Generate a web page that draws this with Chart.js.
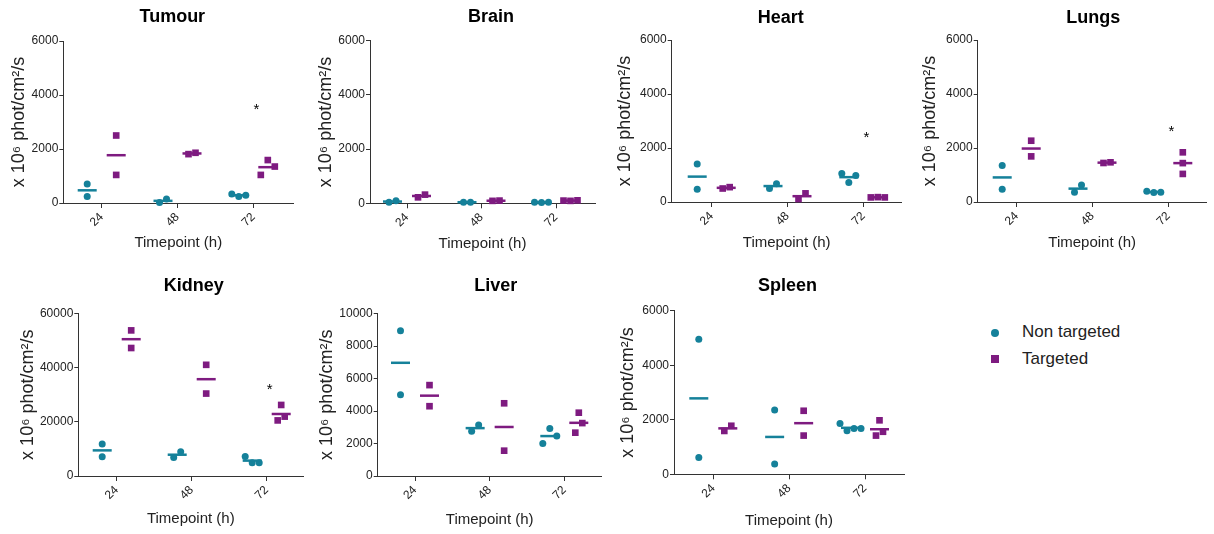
<!DOCTYPE html>
<html>
<head>
<meta charset="utf-8">
<script src="https://cdn.jsdelivr.net/npm/chart.js@4.4.0/dist/chart.umd.min.js"></script>
<style>
  body { margin: 0; background: #fff; width: 1214px; height: 534px; position: relative; overflow: hidden;
         font-family: "Liberation Sans", Arial, sans-serif; }
  canvas { position: absolute; }
  .key { position: absolute; left: 1022px; font-size: 17px; line-height: 17px; color: #222; white-space: nowrap; }
  .mark { position: absolute; }
</style>
</head>
<body>
<div class="mark" style="left:991px;top:329px;width:8px;height:8px;border-radius:50%;background:#15819a"></div>
<div class="mark" style="left:991px;top:355px;width:8px;height:8px;background:#7e1b80"></div>
<div class="key" style="top:323px">Non targeted</div>
<div class="key" style="top:350px">Targeted</div>
<script>
var timepoints = [24, 48, 72];
var organs = ["Tumour", "Brain", "Heart", "Lungs", "Kidney", "Liver", "Spleen"];
var yMax  = [6000, 6000, 6000, 6000, 60000, 10000, 6000];
var yStep = [2000, 2000, 2000, 2000, 20000, 2000, 2000];

// one list of animals per timepoint (24, 48, 72 h)
var tumourNT = [[700, 240], [15, 145], [330, 240, 290]];
var tumourT  = [[2500, 1040], [1810, 1860], [1040, 1590, 1350]];
var brainNT  = [[40, 90], [40, 40], [40, 30, 40]];
var brainT   = [[220, 320], [90, 100], [100, 90, 110]];
var heartNT  = [[1410, 470], [500, 680], [1060, 720, 980]];
var heartT   = [[500, 550], [110, 320], [170, 180, 170]];
var lungsNT  = [[1350, 470], [360, 630], [400, 350, 360]];
var lungsT   = [[2270, 1690], [1445, 1470], [1840, 1440, 1040]];
var kidneyNT = [[11800, 7100], [6800, 8900], [7200, 4900, 4900]];
var kidneyT  = [[53700, 47200], [41000, 30400], [20500, 26200, 21900]];
var liverNT  = [[8950, 5000], [2750, 3150], [2000, 2920, 2460]];
var liverT   = [[5600, 4300], [4480, 1560], [2670, 3900, 3260]];
var spleenNT = [[4950, 620], [2360, 380], [1860, 1600, 1680, 1680]];
var spleenT  = [[1590, 1780], [2330, 1420], [1420, 1980, 1560]];

// height of the * over the 72 h pair, null = not significant
var starY = [3600, null, 2550, 2750, 33500, null, null];

var ntSets = [tumourNT, brainNT, heartNT, lungsNT, kidneyNT, liverNT, spleenNT];
var tSets  = [tumourT, brainT, heartT, lungsT, kidneyT, liverT, spleenT];

// page layout of each plot: axis left, axis right, 24h tick, 72h tick, top, bottom,
// room for y labels, room for x labels, title shift, title lift
var boxes = [
  [63.3, 293.3, 101.7, 253.3, 41, 203, 58, 53, -6, 18.7],
  [370, 595, 407, 556, 40.7, 203.3, 58, 53, 8.5, 19],
  [671.7, 901.7, 711.7, 863.3, 40, 202, 60, 54, -6, 17.3],
  [977.7, 1206.7, 1016.7, 1168.3, 40, 202, 61, 54, 1, 17.3],
  [78.3, 303.3, 116.7, 266.7, 313.3, 476, 64, 56, 3, 22.3],
  [377.7, 601.7, 415, 564.3, 313.7, 476, 64, 57, 6, 22.7],
  [674, 904, 713.3, 865, 310.7, 474.3, 60, 59, -1.5, 19.7]
];

var TEAL = "#15819a", PURPLE = "#7e1b80", AXIS = "#333", TXT = "#222";
var SIDE_PX = 14.5, JIT_PX = 7, HALF_PX = 9.5, PAD_TOP = 40, PAD_R = 6;
var FONT = "'Liberation Sans', Arial, sans-serif";

Chart.defaults.font.family = FONT;
Chart.defaults.animation = false;

// sideways spread for points that would sit on top of each other
function spread(vals, max) {
  var thr = max * 0.06;
  var idx = vals.map(function (v, i) { return i; }).sort(function (a, b) { return vals[a] - vals[b]; });
  var groups = [];
  idx.forEach(function (i) {
    var g = groups[groups.length - 1];
    if (g && vals[i] - vals[g[g.length - 1]] < thr) g.push(i); else groups.push([i]);
  });
  var off = vals.map(function () { return 0; });
  groups.forEach(function (g) {
    g.slice().sort(function (a, b) { return a - b; }).forEach(function (i, k) { off[i] = k - (g.length - 1) / 2; });
  });
  return off;
}

var decor = {
  id: "decor",
  afterDatasetsDraw: function (chart, args, o) {
    var ctx = chart.ctx, a = chart.chartArea;
    ctx.save();
    ctx.fillStyle = "#000";
    ctx.textAlign = "center";
    ctx.textBaseline = "alphabetic";
    ctx.font = "bold 18px " + FONT;
    ctx.fillText(o.title, (a.left + a.right) / 2 + o.dx, a.top - o.lift);
    if (o.star != null) {
      ctx.font = "15px " + FONT;
      var sx = chart.scales.x.getPixelForValue(72) + 3;
      var sy = chart.scales.y.getPixelForValue(o.star);
      ctx.fillText("*", sx, sy + 8.5);
    }
    ctx.restore();
  }
};

organs.forEach(function (name, p) {
  var b = boxes[p];
  var L = b[0], R = b[1], t24 = b[2], t72 = b[3], top = b[4], bot = b[5];
  var ppu = (t72 - t24) / 48;
  var xMin = 24 - (t24 - L) / ppu, xMax = 72 + (R - t72) / ppu;
  var cl = Math.floor(L - b[6]), ct = Math.floor(top - PAD_TOP);
  var w = Math.ceil(R - cl + PAD_R), h = Math.ceil(bot - ct + b[7]);
  var yw = L - cl, xh = h - (bot - ct);

  var cv = document.createElement("canvas");
  cv.width = w; cv.height = h;
  cv.style.left = cl + "px"; cv.style.top = ct + "px";
  cv.style.width = w + "px"; cv.style.height = h + "px";
  document.body.appendChild(cv);

  var datasets = [];
  [[ntSets[p], TEAL, -1, "circle", 3.5], [tSets[p], PURPLE, 1, "rect", 4.7]].forEach(function (g) {
    var pts = [];
    g[0].forEach(function (vals, i) {
      var c = timepoints[i] + g[2] * SIDE_PX / ppu;
      var off = spread(vals, yMax[p]);
      vals.forEach(function (v, k) { pts.push({ x: c + off[k] * JIT_PX / ppu, y: v }); });
      var m = vals.reduce(function (s, v) { return s + v; }, 0) / vals.length;
      datasets.push({
        data: [{ x: c - HALF_PX / ppu, y: m }, { x: c + HALF_PX / ppu, y: m }],
        showLine: true, borderColor: g[1], borderWidth: 2.5, borderCapStyle: "butt",
        pointRadius: 0, order: 0, clip: false
      });
    });
    datasets.push({
      data: pts, pointStyle: g[3], pointRadius: g[4], backgroundColor: g[1],
      borderWidth: 0, order: 1, clip: false
    });
  });

  new Chart(cv, {
    type: "scatter",
    data: { datasets: datasets },
    options: {
      responsive: false,
      events: [],
      layout: { autoPadding: false, padding: { top: top - ct, right: w - (R - cl), left: 0, bottom: 0 } },
      plugins: {
        legend: { display: false },
        tooltip: { enabled: false },
        decor: { title: name, dx: b[8], lift: b[9], star: starY[p] }
      },
      scales: {
        x: {
          type: "linear", min: xMin, max: xMax,
          afterBuildTicks: function (s) { s.ticks = timepoints.map(function (v) { return { value: v }; }); },
          afterFit: function (s) { s.height = xh; },
          grid: { drawOnChartArea: false, tickLength: 5, color: AXIS },
          border: { color: AXIS, width: 1 },
          ticks: { minRotation: 45, maxRotation: 45, padding: 2, color: TXT, font: { size: 12 },
                   callback: function (v) { return String(v); } },
          title: { display: true, text: "Timepoint (h)", color: TXT, font: { size: 15 }, padding: { top: 0, bottom: 4 } }
        },
        y: {
          min: 0, max: yMax[p],
          afterFit: function (s) { s.width = yw; },
          grid: { drawOnChartArea: false, tickLength: 4, color: AXIS },
          border: { color: AXIS, width: 1 },
          ticks: { stepSize: yStep[p], padding: 1, color: TXT, font: { size: 12 },
                   callback: function (v) { return String(v); } },
          title: { display: true, text: "x 10\u2076 phot/cm\u00b2/s", color: TXT, font: { size: 18 }, padding: { top: 3, bottom: 0 } }
        }
      }
    },
    plugins: [decor]
  });
});
</script>
</body>
</html>
